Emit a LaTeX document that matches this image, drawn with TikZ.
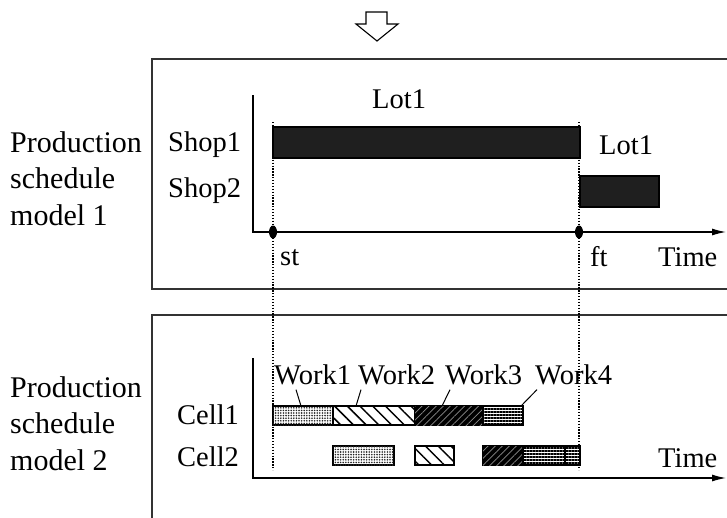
\documentclass[tikz,border=0pt]{standalone}
\usepackage{fontspec}
\setmainfont{Liberation Serif}
\usetikzlibrary{arrows.meta,patterns.meta}

\tikzset{
  etiq/.style={anchor=base west, inner sep=0pt, font=\fontsize{28.5}{34}\selectfont},
  modelo/.style={anchor=north west, inner sep=0pt, align=left, font=\fontsize{30}{36.5}\selectfont},
  marco/.style={line width=2.4pt, draw=black!80},
  eje/.style={line width=1.2pt, -{Latex[length=14pt,width=7pt]}},
  guia/.style={line width=1.3pt, dash pattern=on 1.3pt off 1.6pt},
  barra/.style={draw=black, line width=1.2pt},
  lote/.style={barra, fill=black!88},
  puntos/.style={barra, fill=white, postaction={pattern={Dots[distance=2.6pt,radius=0.9pt]}, pattern color=black!85}},
  rayas/.style={barra, fill=white, postaction={pattern={Lines[angle=-45,distance=9pt,line width=1.5pt]}}},
  oscuro/.style={barra, fill=black, postaction={pattern={Lines[angle=45,distance=5pt,line width=0.7pt]}, pattern color=black!45}},
  horiz/.style={barra, fill=white, postaction={pattern={Lines[angle=0,distance=3pt,line width=1.9pt]}}},
}

\begin{document}
\begin{tikzpicture}[x=1pt,y=-1pt]
\useasboundingbox (0,0) rectangle (727,517);
\clip (0,0) rectangle (727,517);

% Flecha de arriba
\draw[line width=1.1pt] (366,12) -- (387,12) -- (387,24) -- (398,24) -- (377,41)
  -- (356,24) -- (366,24) -- cycle;

% Marcos de los dos modelos
\draw[marco] (152,59) rectangle (745,289);
\draw[marco] (152,315) rectangle (745,545);

\node[modelo] (modelo1) at (10,131) {Production\\schedule\\model 1};
\node[modelo] (modelo2) at (10,376) {Production\\schedule\\model 2};

% Lineas de st y ft
\draw[guia] (273,122) -- (273,470);
\draw[guia] (579,122) -- (579,470);

% Modelo 1: talleres
\draw[eje] (253,95) |- (726,232);
\node[etiq] (shop1) at (168,151) {Shop1};
\node[etiq] (shop2) at (168,197) {Shop2};
\draw[lote] (273,127) rectangle (580,158);
\draw[lote] (580,176) rectangle (659,207);
\node[etiq] (lot1a) at (372,108) {Lot1};
\node[etiq] (lot1b) at (599,154) {Lot1};
\fill (273,232) ellipse [x radius=4pt, y radius=6.5pt];
\fill (579,232) ellipse [x radius=4pt, y radius=6.5pt];
\node[etiq] (st) at (280,265) {st};
\node[etiq] (ft) at (590,266) {ft};
\node[etiq] (time1) at (658,266) {Time};

% Modelo 2: celdas
\draw[eje] (253,358) |- (726,478);
\node[etiq] (cell1) at (177,424) {Cell1};
\node[etiq] (cell2) at (177,466) {Cell2};
\node[etiq] (time2) at (658,467) {Time};

\draw[puntos] (273,406) rectangle (333,425);
\draw[rayas] (333,406) rectangle (415,425);
\draw[oscuro] (415,406) rectangle (483,425);
\draw[horiz] (483,406) rectangle (523,425);

\draw[puntos] (333,446) rectangle (394,465);
\draw[rayas] (415,446) rectangle (454,465);
\draw[oscuro] (483,446) rectangle (523,465);
\draw[horiz] (523,446) rectangle (580,465);
\draw[barra] (565,446) -- (565,465);

\node[etiq] (work1) at (274,384) {Work1};
\node[etiq] (work2) at (358,384) {Work2};
\node[etiq] (work3) at (445,384) {Work3};
\node[etiq] (work4) at (535,384) {Work4};
\coordinate (p1) at (301,406);
\coordinate (p2) at (356,406);
\coordinate (p3) at (442,406);
\coordinate (p4) at (521,406);
\draw[line width=1pt] ([shift={(22,5)}]work1.south west) -- (p1);
\draw[line width=1pt] ([shift={(3,5)}]work2.south west) -- (p2);
\draw[line width=1pt] ([shift={(5,5)}]work3.south west) -- (p3);
\draw[line width=1pt] ([shift={(2,5)}]work4.south west) -- (p4);
\end{tikzpicture}
\end{document}
